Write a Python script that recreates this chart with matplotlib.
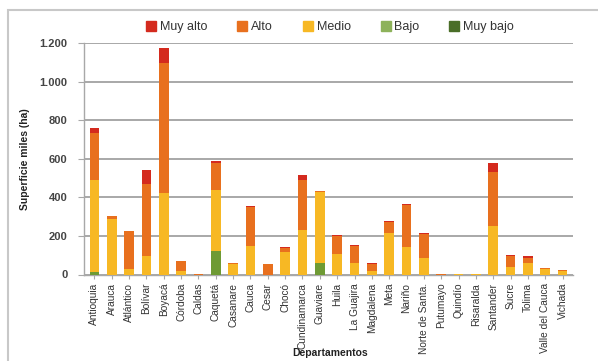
import matplotlib
matplotlib.use("Agg")
import matplotlib.pyplot as plt
from matplotlib.patches import Rectangle
from matplotlib.ticker import FuncFormatter
import numpy as np

plt.rcParams['font.family'] = ['Liberation Sans', 'DejaVu Sans']

departamentos = ["Antioquia", "Arauca", "Atlántico", "Bolívar", "Boyacá", "Córdoba",
                 "Caldas", "Caquetá", "Casanare", "Cauca", "Cesar", "Chocó",
                 "Cundinamarca", "Guaviare", "Huila", "La Guajira", "Magdalena",
                 "Meta", "Nariño", "Norte de Santa.", "Putumayo", "Quindío",
                 "Risaralda", "Santander", "Sucre", "Tolima", "Valle del Cauca",
                 "Vichada"]

muy_bajo = [0, 0, 0, 0, 0, 0, 0, 0, 0, 0, 0, 0, 0, 0, 0, 0, 0, 0, 0, 0, 0, 0, 0, 0, 0, 0, 0, 0]
bajo     = [12, 0, 0, 0, 0, 0, 0, 122, 0, 0, 0, 0, 0, 61, 0, 0, 0, 0, 0, 0, 0, 0, 0, 0, 0, 0, 0, 0]
medio    = [480, 287, 30, 96, 421, 18, 0, 318, 55, 149, 0, 118, 231, 368, 104, 58, 20, 213, 144, 84, 0, 1, 3, 251, 40, 60, 30, 20]
alto     = [243, 16, 195, 373, 676, 50, 3, 140, 6, 200, 53, 20, 259, 5, 98, 92, 35, 60, 215, 127, 2, 3, 1, 282, 58, 28, 4, 3]
muy_alto = [25, 2, 3, 72, 75, 3, 2, 8, 0, 7, 3, 3, 25, 0, 3, 3, 3, 4, 5, 3, 3, 1, 0, 46, 3, 7, 0, 0]

series = [("Muy alto", muy_alto, "#D42A1E"),
          ("Alto", alto, "#E8701E"),
          ("Medio", medio, "#F7B824"),
          ("Bajo", bajo, "#6E9A34"),
          ("Muy bajo", muy_bajo, "#4A6E28")]
legend_colors = {"Muy alto": "#D42A1E", "Alto": "#E8701E", "Medio": "#F7B824",
                 "Bajo": "#8DB25A", "Muy bajo": "#4A6E28"}

fig = plt.figure(figsize=(5.98, 3.61), dpi=100)
fig.patch.set_facecolor("white")

# outer chart frame
fig.add_artist(Rectangle((8 / 598, -0.05), 1.0, 1 - 10 / 361 + 0.05,
                         transform=fig.transFigure, fill=False,
                         edgecolor="#C8C8C8", linewidth=1.5))

ax = fig.add_axes([84 / 598, 86.5 / 361, (573 - 84) / 598, (318 - 86.5) / 361])
x = np.arange(len(departamentos))

# stack from the bottom class upwards
stack_order = ["Muy bajo", "Bajo", "Medio", "Alto", "Muy alto"]
lookup = {name: (vals, col) for name, vals, col in series}
bottom = np.zeros(len(departamentos))
for name in stack_order:
    vals, col = lookup[name]
    vals = np.array(vals, dtype=float)
    ax.bar(x, vals, bottom=bottom, width=0.55, color=col, edgecolor="none", zorder=3)
    bottom += vals

ax.set_xlim(-0.6, len(departamentos) - 0.4)
ax.set_ylim(0, 1200)
ax.set_yticks(np.arange(0, 1201, 200))
ax.yaxis.set_major_formatter(FuncFormatter(lambda v, p: f"{int(v):,}".replace(",", ".")))
ax.grid(axis="y", color="#A8A8A8", linewidth=1.4, zorder=0)
ax.set_axisbelow(True)

for side in ["top", "right"]:
    ax.spines[side].set_visible(False)
ax.spines["left"].set_color("#A8A8A8")
ax.spines["bottom"].set_color("#A8A8A8")
ax.spines["left"].set_linewidth(1.0)
ax.spines["bottom"].set_linewidth(1.0)

ax.set_xticks(x)
ax.set_xticklabels(departamentos, rotation=90, fontsize=7.3, color="#333333")
ax.tick_params(axis="x", length=3, color="#A8A8A8", pad=3)
ax.tick_params(axis="y", length=4, color="#A8A8A8", labelsize=8, labelcolor="#444444", pad=8)
for lbl in ax.get_yticklabels():
    lbl.set_fontweight("bold")

ax.set_ylabel("Superficie miles (ha)", fontsize=7.5, fontweight="bold", color="#222222")
ax.yaxis.set_label_coords((30 - 84) / 489, 0.5)
fig.text(330 / 598, 1 - 353 / 361, "Departamentos", fontsize=7.5, fontweight="bold",
         color="#222222", ha="center", va="center")

handles = [Rectangle((0, 0), 1, 1, color=legend_colors[name]) for name, _, _ in series]
fig.legend(handles, [name for name, _, _ in series], loc="center",
           bbox_to_anchor=(330 / 598, 1 - 27 / 361), ncol=5, frameon=False,
           fontsize=9, handlelength=0.8, handleheight=0.8, handletextpad=0.3,
           columnspacing=2.4, labelcolor="#333333")

fig.savefig("out.png", dpi=100, facecolor="white")
